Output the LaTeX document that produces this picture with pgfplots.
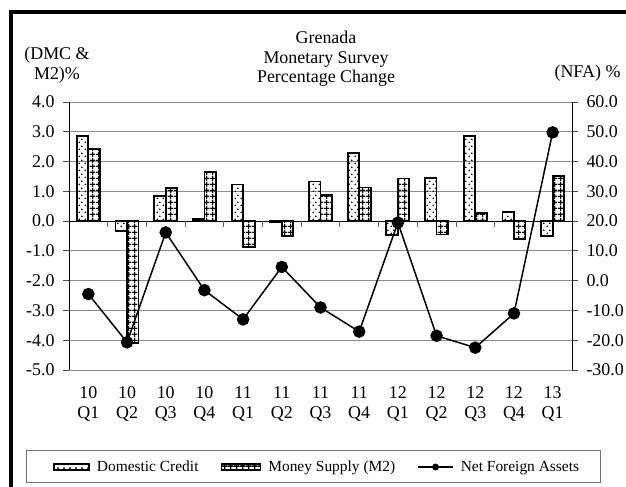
\documentclass[border=0pt]{standalone}
\usepackage{fontspec}
\setmainfont{Liberation Serif}
\usepackage{pgfplots}
\pgfplotsset{compat=1.18}
\usetikzlibrary{patterns.meta}

\tikzdeclarepattern{
  name=dcdots,
  type=uncolored,
  bounding box={(0,0) and (6bp,7bp)},
  tile size={(6bp,7bp)},
  code={\fill (1.5bp,1.75bp) circle (0.85bp); \fill (4.5bp,5.25bp) circle (0.85bp);}
}
\tikzdeclarepattern{
  name=m2grid,
  type=uncolored,
  bounding box={(0,0) and (6bp,6bp)},
  tile size={(6bp,6bp)},
  code={\draw[line width=1.2bp] (0,3bp) -- (6bp,3bp); \draw[line width=1.2bp] (3bp,0) -- (3bp,6bp);}
}

\newcommand\tickfont{\fontsize{18}{20.5}\selectfont}
\newcommand\legfont{\fontsize{15.5}{18}\selectfont}

\tikzset{
  dcbar/.style={draw=none, pattern=dcdots, pattern color=black, postaction={draw=black, line width=1.8bp}},
  m2bar/.style={draw=none, pattern=m2grid, pattern color=black, postaction={draw=black, line width=1.8bp}},
}

\pgfplotstableread{
x  dc     m2     nfa
0  2.86   2.42   -4.5
1  -0.33  -4.10  -20.7
2  0.85   1.10   16.2
3  0.08   1.65   -3.2
4  1.23   -0.86  -13.0
5  -0.02  -0.49  4.6
6  1.33   0.87   -9.0
7  2.29   1.13   -17.1
8  -0.47  1.43   19.5
9  1.45   -0.45  -18.5
10 2.86   0.28   -22.5
11 0.31   -0.60  -11.0
12 -0.49  1.51   49.8
}\datatable

\begin{document}
\begin{tikzpicture}
\useasboundingbox (0,0) rectangle (626bp,487bp);
% outer frame (left and top edges visible)
\draw[line width=4bp, black] (11bp,-5bp) -- (11bp,475bp) -- (640bp,475bp);

\begin{axis}[
  at={(69bp,117bp)}, anchor=south west,
  scale only axis, width=503bp, height=268bp,
  xmin=-0.5, xmax=12.5, ymin=-5, ymax=4,
  ytick={-5,-4,...,4},
  xtick={0,...,12},
  xticklabels={{10\\Q1},{10\\Q2},{10\\Q3},{10\\Q4},{11\\Q1},{11\\Q2},{11\\Q3},{11\\Q4},{12\\Q1},{12\\Q2},{12\\Q3},{12\\Q4},{13\\Q1}},
  xticklabel style={align=center, font=\tickfont, yshift=-7bp},
  xtick style={draw=none},
  axis x line*=bottom, axis y line*=left,
  x axis line style={draw=none},
  y axis line style={black, line width=1bp},
  tick align=outside, major tick length=6bp,
  ytick style={black!70, line width=0.8bp},
  yticklabel style={font=\tickfont, xshift=-5bp, /pgf/number format/.cd, fixed, fixed zerofill, precision=1, assume math mode=true},
  ymajorgrids, grid style={black!45, line width=0.9bp},
  extra y ticks={0}, extra y tick labels={},
  extra y tick style={grid style={black, line width=1.1bp}, major tick length=0pt},
  ybar, bar width=11.5bp,
  legend columns=3,
  legend style={draw=none, fill=none, inner sep=0pt, font=\legfont, text=black,
    at={(-0.032,-0.362)}, anchor=west,
    /tikz/every odd column/.style={column sep=5bp},
    /tikz/every even column/.style={column sep=20bp}},
  legend cell align=left,
]
\addplot[bar shift=-5.75bp, dcbar,
  legend image code/.code={\path[dcbar] (0bp,-3bp) rectangle (35bp,3bp);}]
  table[x=x, y=dc] {\datatable};
\addplot[bar shift=5.75bp, m2bar,
  legend image code/.code={\path[m2bar] (0bp,-3bp) rectangle (39bp,3bp);}]
  table[x=x, y=m2] {\datatable};
\addlegendimage{legend image code/.code={\draw[black, line width=1.5bp] (0bp,0bp) -- (35bp,0bp); \fill[black] (17.5bp,0bp) circle (3.2bp);}}
\legend{Domestic Credit, Money Supply (M2), Net Foreign Assets}
\draw[black!60, line width=0.8bp] (axis cs:0.5,0) -- ([yshift=-6bp]axis cs:0.5,0);
\draw[black!60, line width=0.8bp] (axis cs:1.5,0) -- ([yshift=-6bp]axis cs:1.5,0);
\draw[black!60, line width=0.8bp] (axis cs:2.5,0) -- ([yshift=-6bp]axis cs:2.5,0);
\draw[black!60, line width=0.8bp] (axis cs:3.5,0) -- ([yshift=-6bp]axis cs:3.5,0);
\draw[black!60, line width=0.8bp] (axis cs:4.5,0) -- ([yshift=-6bp]axis cs:4.5,0);
\draw[black!60, line width=0.8bp] (axis cs:5.5,0) -- ([yshift=-6bp]axis cs:5.5,0);
\draw[black!60, line width=0.8bp] (axis cs:6.5,0) -- ([yshift=-6bp]axis cs:6.5,0);
\draw[black!60, line width=0.8bp] (axis cs:7.5,0) -- ([yshift=-6bp]axis cs:7.5,0);
\draw[black!60, line width=0.8bp] (axis cs:8.5,0) -- ([yshift=-6bp]axis cs:8.5,0);
\draw[black!60, line width=0.8bp] (axis cs:9.5,0) -- ([yshift=-6bp]axis cs:9.5,0);
\draw[black!60, line width=0.8bp] (axis cs:10.5,0) -- ([yshift=-6bp]axis cs:10.5,0);
\draw[black!60, line width=0.8bp] (axis cs:11.5,0) -- ([yshift=-6bp]axis cs:11.5,0);
\end{axis}

\begin{axis}[
  at={(69bp,117bp)}, anchor=south west,
  scale only axis, width=503bp, height=268bp,
  xmin=-0.5, xmax=12.5, ymin=-30, ymax=60,
  ytick={-30,-20,...,60},
  axis x line=none, axis y line*=right,
  y axis line style={black, line width=1bp},
  tick align=outside, major tick length=6bp,
  ytick style={black!70, line width=0.8bp},
  yticklabel style={font=\tickfont, xshift=5bp, /pgf/number format/.cd, fixed, fixed zerofill, precision=1, assume math mode=true},
]
\addplot[black, line width=1.5bp, mark=*, mark size=5.5bp, mark options={fill=black}]
  table[x=x, y=nfa] {\datatable};
\end{axis}

% legend frame
\draw[black!55, line width=0.9bp] (26bp,5bp) rectangle (600bp,37bp);

% titles
\node[font=\fontsize{18}{19.5}\selectfont, align=center] at (326bp,428bp) {Grenada\\Monetary Survey\\Percentage Change};
\node[font=\tickfont, align=center] at (57bp,422bp) {(DMC \&\\M2)\%};
\node[font=\tickfont, anchor=east] at (624bp,414bp) {(NFA) \%};
\end{tikzpicture}
\end{document}
